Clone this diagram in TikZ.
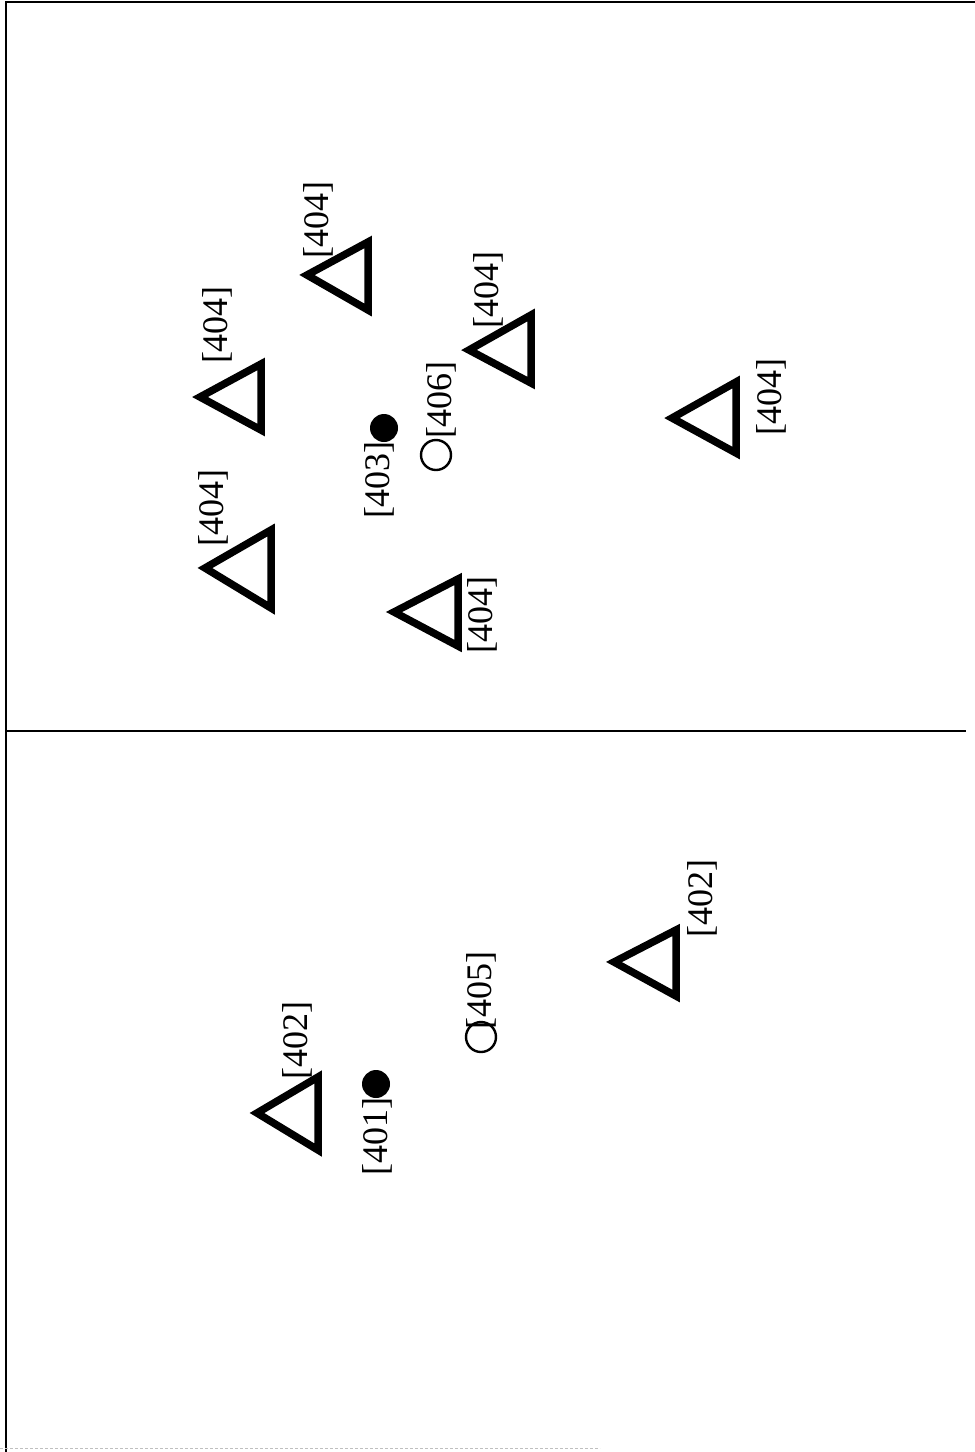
\documentclass[tikz,border=0pt]{standalone}
\usepackage{fontspec}
\setmainfont{Liberation Serif}
\begin{document}
\begin{tikzpicture}[x=1pt,y=-1pt,
  tri/.style={draw=black,line width=7.5pt,line join=miter},
  lbl/.style={rotate=90,inner sep=0pt,font=\fontsize{36}{36}\selectfont},
  dotmark/.style={circle,fill=black,inner sep=0pt,minimum size=28pt},
  ringmark/.style={circle,draw=black,line width=2.4pt,inner sep=0pt,minimum size=30pt},
  frame/.style={draw=black,line width=2.5pt}]
\useasboundingbox (0,0) rectangle (975,1452);
\newcommand{\mytri}[5]{\draw[tri] (#1+7,#2) -- (#3-4,#4+7) -- (#3-4,#5-7) -- cycle;}
% frame
\coordinate (tl) at (6,2);
\coordinate (tr) at (975,2);
\coordinate (bl) at (6,1452);
\coordinate (ml) at (6,731);
\coordinate (mr) at (966,731);
\draw[frame] (tr) -- (tl) -- (bl);
\draw[frame] (ml) -- (mr);
\coordinate (bb1) at (0,1448);
\coordinate (bb2) at (600,1448);
\draw[gray!50,line width=0.8pt,dash pattern=on 3pt off 2pt] (bb1) -- (bb2);
% upper panel triangles
\mytri{193}{397}{265}{357}{437}
\mytri{300}{275}{372}{235}{317}
\mytri{462}{350}{535}{308}{390}
\mytri{198}{568}{275}{523}{615}
\mytri{387}{612}{462}{572}{653}
\mytri{665}{418}{740}{375}{460}
% lower panel triangles
\mytri{250}{1113}{322}{1070}{1157}
\mytri{607}{962}{680}{923}{1003}
% labels upper
\node[lbl] (l1) at (217,325) {[404]};
\node[lbl] (l2) at (318,220) {[404]};
\node[lbl] (l3) at (488,290) {[404]};
\node[lbl] (l4) at (213,508) {[404]};
\node[lbl] (l5) at (482,615) {[404]};
\node[lbl] (l6) at (771,397) {[404]};
\node[dotmark] (d403) at (384,428) {};
\node[lbl] (l403) at (379,480) {[403]};
\node[ringmark] (c406) at (436,455) {};
\node[lbl] (l406) at (441,400) {[406]};
% labels lower
\node[lbl] (l7) at (297,1040) {[402]};
\node[lbl] (l8) at (702,898) {[402]};
\node[dotmark] (d401) at (376,1084) {};
\node[lbl] (l401) at (377,1136) {[401]};
\node[ringmark] (c405) at (481,1037) {};
\node[lbl] (l405) at (481,990) {[405]};
\end{tikzpicture}
\end{document}
